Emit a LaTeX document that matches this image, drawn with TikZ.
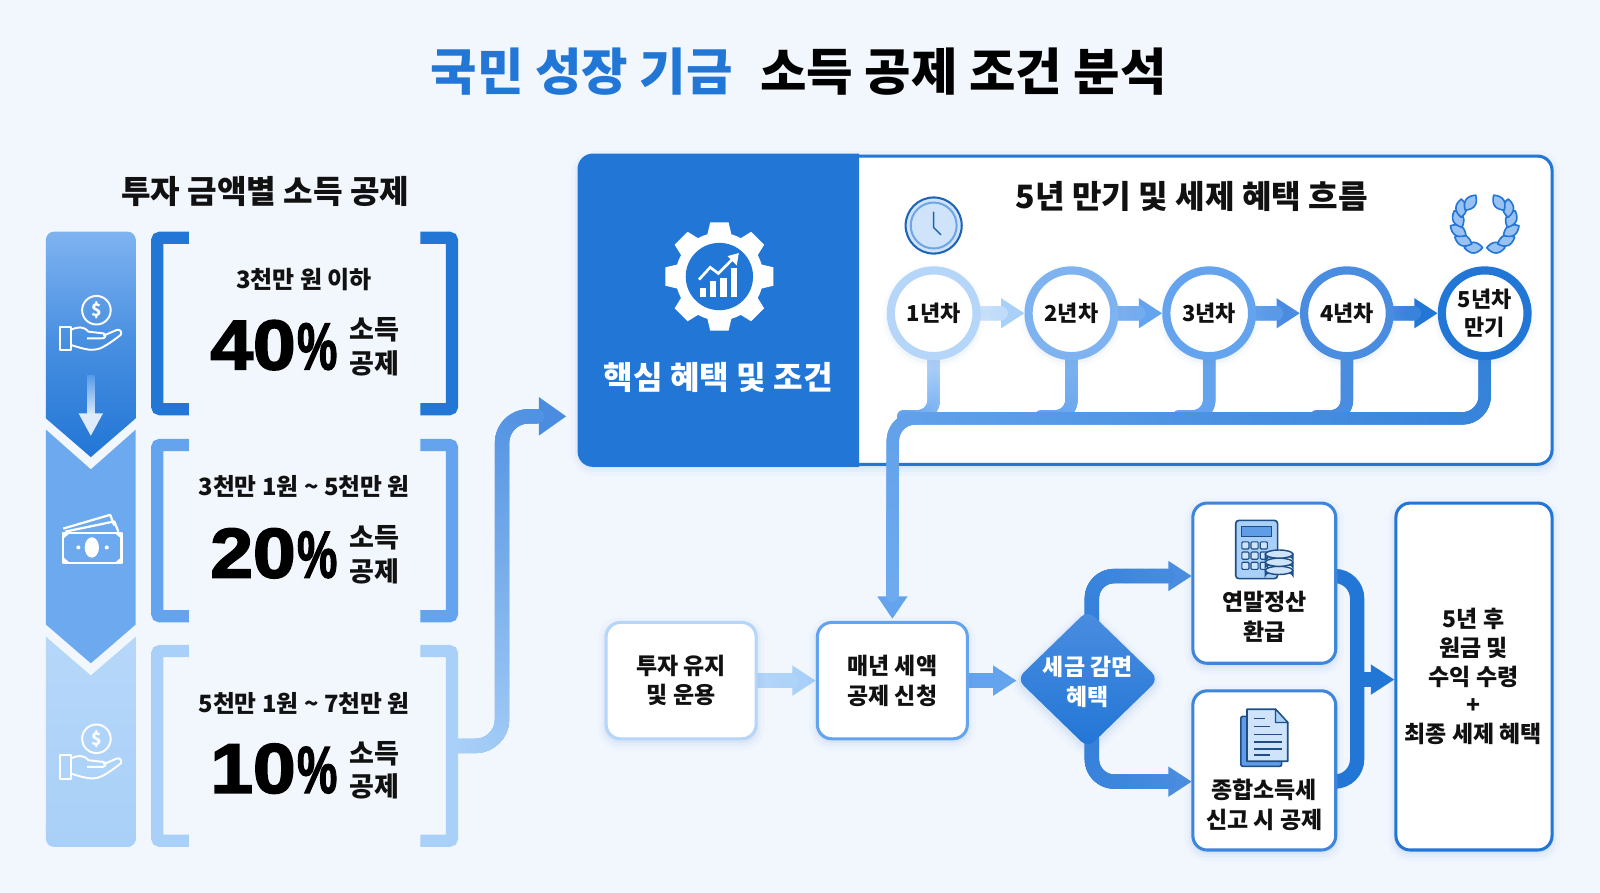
\documentclass[tikz,border=0pt]{standalone}
\usepackage{fontspec}
\usepackage{graphicx}
\usetikzlibrary{arrows.meta,shapes.geometric,decorations.markings,calc}
\setmainfont{Noto Sans CJK KR}
\newfontfamily\numfont{Liberation Sans}[BoldFeatures={FakeBold=2.4}]
\definecolor{cA}{HTML}{2276D6}
\definecolor{cB}{HTML}{64A4EE}
\definecolor{cC}{HTML}{A9D0F8}
\definecolor{cM}{HTML}{4A8DE0}
\definecolor{cN}{HTML}{7FB3F0}
\definecolor{cL}{HTML}{B5D6F9}
\definecolor{bgc}{HTML}{F2F7FE}
\definecolor{shc}{HTML}{5B8FD0}
\definecolor{icd}{HTML}{1F4E85}
\definecolor{icm}{HTML}{5F9DE6}
\definecolor{icl}{HTML}{CFE3FB}
\definecolor{ink}{HTML}{111111}
\colorlet{brn}{cA!65!cM}
\pgfdeclarelayer{under}
\pgfdeclarelayer{conn}
\pgfsetlayers{under,conn,main}
\tikzset{
  softshadow/.style={
    preaction={draw=shc,draw opacity=.035,line width=16pt,transform canvas={yshift=-3pt}},
    preaction={draw=shc,draw opacity=.05,line width=9pt,transform canvas={yshift=-3pt}},
    preaction={draw=shc,draw opacity=.07,line width=4pt,transform canvas={yshift=-2pt}}},
  gradline/.style n args={4}{postaction={decorate,decoration={markings,
    mark=between positions 0 and #4 step 1.5pt with {
      \pgfmathsetmacro\gp{100*(1-\pgfkeysvalueof{/pgf/decoration/mark info/distance from start}/\pgfdecoratedpathlength)}
      \fill[fill=#1!\gp!#2] (0,0) circle[radius=#3/2+0.15];}}}},
  flowtip/.style={-{Triangle[length=#1pt,width=28pt]}},
  tb/.style n args={3}{font=\bfseries\fontsize{#1}{#2}\selectfont,inner sep=0pt,align=center,text=#3},
  flowbox/.style={rectangle,rounded corners=14pt,fill=white,line width=3pt,inner sep=0pt,softshadow},
  yearnode/.style={circle,fill=white,line width=8pt,inner sep=0pt,minimum size=84pt,softshadow,
    font=\bfseries\fontsize{21.5}{28}\selectfont,align=center,text=ink},
  brk/.style={line width=12pt,rounded corners=3pt,line cap=butt},
  ghost/.style={rectangle,inner sep=0pt,minimum width=#1},
  leaf/.pic={\draw[cA,fill=cN!80!white,line width=1.6pt,line join=round]
    (-9,0) .. controls (-3,-7) and (3,-7) .. (9,0) .. controls (3,7) and (-3,7) .. (-9,0) -- cycle;}
}
\newcommand\brpair[5]{% name, y1, y2, colour, centre y
  \node[ghost=301pt,minimum height=#3pt-#2pt] (#1) at (298.5,#5) {};
  \draw[brk,draw=#4] (185,#2+6) -- (154,#2+6) -- (154,#3-6) -- (185,#3-6);
  \draw[brk,draw=#4] (412,#2+6) -- (443,#2+6) -- (443,#3-6) -- (412,#3-6);
}
\newcommand\pctline[3]{% name, y of percent, number
  \node[inner sep=0pt,anchor=base east,text=black] (#1n) at (290,#2+24) {\numfont\bfseries\fontsize{69}{69}\selectfont\scalebox{1.09}[1]{#3}};
  \node[inner sep=0pt,anchor=base west,text=black] (#1p) at (291,#2+24) {\numfont\bfseries\fontsize{65}{65}\selectfont\scalebox{.68}[1]{\%}};
  \node[tb={26.5}{33}{ink}] (#1s) at (367,#2+2) {소득\\공제};
}
\newcommand\handicon[3]{% name, x, y (centre)
  \begin{scope}[shift={(#2,#3)},draw=white,line width=1.9pt,line join=round]
    \draw (4.5,-14) circle[radius=14];
    \node[text=white,inner sep=0pt,font=\bfseries\fontsize{17}{17}\selectfont] (#1) at (4.5,-14) {\$};
    \draw (-31.2,2) rectangle (-20.7,25);
    \draw (-20.7,5.4) .. controls (-14,2) and (-8,1.5) .. (-3.4,7) -- (11.3,8.7) .. controls (14,9.5) and (14,13) .. (11,13.5) -- (-4.7,13.6);
    \draw (11.3,11) -- (24.3,5.4) .. controls (28,4) and (30,8) .. (28.2,10.3) .. controls (22,15) and (14,21) .. (8,23.4) .. controls (0,26) and (-5,25) .. (-20.7,20);
  \end{scope}
}
\begin{document}
\begin{tikzpicture}[x=1pt,y=-1pt]
\useasboundingbox (0,0) rectangle (1568,875);
\begin{pgfonlayer}{under}
\fill[bgc] (0,0) rectangle (1568,875);
\node[rectangle,rounded corners=14pt,draw=cA,fill=white,line width=3pt,inner sep=0pt,
  minimum width=953pt,minimum height=302pt,softshadow] (pnl) at (1044.5,304) {};
\fill[cA] (842,150.5) -- (842,457.5) -- (581,457.5) arc[start angle=90,end angle=180,radius=15] -- (566,165.5) arc[start angle=180,end angle=270,radius=15] -- cycle;
\end{pgfonlayer}

% title
\node[tb={49.5}{52}{cA}] (t1) at (570,70) {국민 성장 기금};
\node[tb={49.5}{52}{black}] (t2) at (944,70) {소득 공제 조건 분석};
\node[tb={31.5}{36}{ink}] (sub) at (260,188) {투자 금액별 소득 공제};

% chevron band
\shade[top color=cC!85!white,bottom color=cC]
  (45,624) -- (89,662) -- (133,624) -- (133,822) arc[start angle=0,end angle=90,radius=8] -- (53,830) arc[start angle=90,end angle=180,radius=8] -- cycle;
\fill[cB!95!white] (45,421) -- (89,460) -- (133,421) -- (133,612) -- (89,650) -- (45,612) -- cycle;
\shade[top color=cN,bottom color=cA,middle color=cA!60!cN]
  (45,410) -- (45,235) arc[start angle=180,end angle=270,radius=8] -- (125,227) arc[start angle=270,end angle=360,radius=8] -- (133,410) -- (89,448) -- cycle;
\shade[top color=cB!80!cA,bottom color=white!80!cB] (85.5,368) rectangle (92.5,408);
\fill[white!78!cB] (77,405) -- (101,405) -- (89,427) -- cycle;

% band icons
\handicon{coinA}{90}{318}
\handicon{coinB}{90}{738}
\begin{scope}[draw=white,line width=2.2pt,line join=round]
  \draw (62,518) -- (108,504.5) -- (112,515);
  \draw (64,521) -- (112,511) -- (116,521);
  \draw (62,522) rectangle (119,552);
  \fill[white] (90,536.5) ellipse[x radius=7,y radius=10];
  \fill[white] (76.8,536.5) circle[radius=2];
  \fill[white] (104.6,536.5) circle[radius=2];
  \fill[white] (62,522) -- (69,522) -- (62,528) -- cycle;
  \fill[white] (119,522) -- (112,522) -- (119,528) -- cycle;
  \fill[white] (62,552) -- (69,552) -- (62,546) -- cycle;
  \fill[white] (119,552) -- (112,552) -- (119,546) -- cycle;
\end{scope}

% brackets
\brpair{brA}{227}{407}{cA}{317}
\brpair{brB}{430}{610}{cB}{520}
\brpair{brC}{632}{830}{cC}{731}

\node[tb={23.5}{28}{ink}] (a1) at (298,274) {3천만 원 이하};
\pctline{a2}{338}{40}
\node[tb={23.3}{28}{ink}] (b1) at (298,477) {3천만 1원 {\char"7E} 5천만 원};
\pctline{b2}{542}{20}
\node[tb={23.3}{28}{ink}] (c1) at (298,689) {5천만 1원 {\char"7E} 7천만 원};
\pctline{c2}{753}{10}

\node[tb={31.5}{36}{white}] (pt) at (704,370) {핵심 혜택 및 조건};
\node[tb={31.5}{36}{ink}] (ph) at (1168,193) {5년 만기 및 세제 혜택 흐름};

% gear
\begin{scope}[shift={(705,271)}]
  \foreach \a in {0,45,...,315}
    \fill[white,rotate=\a] (-13,-36) -- (-9,-53) -- (9,-53) -- (13,-36) -- cycle;
  \fill[white] (0,0) circle[radius=43];
  \fill[cA] (0,0) circle[radius=33];
  \fill[white] (-19,11) rectangle (-13,20);
  \fill[white] (-9,4) rectangle (-3,20);
  \fill[white] (1,1) rectangle (7,20);
  \fill[white] (11,-8) rectangle (17,20);
  \draw[white,line width=2.6pt,line join=miter] (-20,3) -- (-9,-9) -- (-1,-3) -- (14,-18);
  \fill[white] (19,-23) -- (8,-20) -- (17,-11) -- cycle;
\end{scope}

% clock
\begin{scope}[shift={(915,221)}]
  \fill[icl] (0,0) circle[radius=28];
  \draw[cA!85!black,line width=2pt] (0,0) circle[radius=27.5];
  \draw[cA!65!white,line width=2pt] (0,0) circle[radius=22.5];
  \draw[cA!85!black,line width=1.5pt,line cap=round] (0,-13) -- (0,2) -- (7,9);
\end{scope}

% laurel
\foreach \px/\py/\r in {1444/242.7/0,1434/235.7/22,1429/226/32,1429/214.6/65,1432/204/90,1441/198.6/-55} {
  \pic[shift={(\px,\py)},rotate={-\r}] {leaf};
  \pic[shift={({2910-\px},\py)},rotate={\r}] {leaf};
}

% year nodes
\node[yearnode,draw=cL] (yA) at (915,307) {1년차};
\node[yearnode,draw=cN] (yB) at (1050,307) {2년차};
\node[yearnode,draw=cB] (yC) at (1185,307) {3년차};
\node[yearnode,draw=cM] (yD) at (1320,307) {4년차};
\node[yearnode,draw=cA] (yE) at (1455,307) {5년차\\만기};

% bottom boxes
\node[flowbox,draw=cL,minimum width=147pt,minimum height=114pt] (keep) at (667.5,667) {};
\node[tb={22.5}{29}{ink}] (keept) at (667.5,667) {투자 유지\\및 운용};
\node[flowbox,draw=cB,minimum width=147pt,minimum height=114pt] (mnb) at (874.5,667) {};
\node[tb={22.5}{29}{ink}] (mnbt) at (874.5,667) {매년 세액\\공제 신청};
\node[flowbox,draw=cA!88!white,minimum width=140pt,minimum height=157pt] (ny) at (1239,571.5) {};
\node[tb={22.5}{29}{ink}] (nyt) at (1239,604.5) {연말정산\\환급};
\node[flowbox,draw=cA!88!white,minimum width=140pt,minimum height=156pt] (nj) at (1239,755) {};
\node[tb={22.5}{29}{ink}] (njt) at (1239,788.5) {종합소득세\\신고 시 공제};
\node[flowbox,draw=cA,minimum width=153pt,minimum height=340pt] (fin) at (1444.5,663) {};
\node[tb={22.5}{28}{ink}] (fint) at (1444,663) {5년 후\\원금 및\\수익 수령\\+\\최종 세제 혜택};
\node[diamond,shape aspect=1,minimum width=139pt,minimum height=135pt,inner sep=0pt,rounded corners=9pt,
  top color=cM,bottom color=cA,softshadow] (dia) at (1066,665.5) {};
\node[tb={22.5}{29}{white}] (diat) at (1066,668) {세금 감면\\혜택};

% connectors
\coordinate (riser) at (492,570);
\coordinate (pnlIn) at (555,408);
\coordinate (busL) at (875,410);
\coordinate (nyIn) at (1168,564.5);
\coordinate (njIn) at (1168,766);
\coordinate (brR) at (1330,666);
\coordinate (diaT) at (1070,620);
\coordinate (diaB) at (1070,710);
\begin{pgfonlayer}{conn}
\draw[line width=14pt,draw=cM,-{Triangle[length=27pt,width=36pt]},rounded corners=26pt,gradline={cC}{cM}{14}{-27pt}]
  (brC.east) -| (riser) |- (pnlIn);
\draw[line width=14pt,draw=cC,flowtip=23,gradline={cL!60!white}{cC}{14}{-23pt}] (yA.east) -- (yB.west);
\draw[line width=14pt,draw=cB,flowtip=23,gradline={cN}{cB}{14}{-23pt}] (yB.east) -- (yC.west);
\draw[line width=14pt,draw=cM,flowtip=23,gradline={cB}{cM}{14}{-23pt}] (yC.east) -- (yD.west);
\draw[line width=14pt,draw=cA,flowtip=23,gradline={cM}{cA}{14}{-23pt}] (yD.east) -- (yE.west);
\draw[line width=12pt,cB,rounded corners=16pt,gradline={cL}{cB}{12}{1}] (yA.south) |- ++(-30,55);
\draw[line width=12pt,cB,rounded corners=16pt,gradline={cN}{cB}{12}{1}] (yB.south) |- ++(-30,55);
\draw[line width=12pt,cB,rounded corners=16pt,gradline={cB}{cB}{12}{1}] (yC.south) |- ++(-30,55);
\draw[line width=12pt,cM,rounded corners=16pt,gradline={cM}{cM}{12}{1}] (yD.south) |- ++(-30,55);
\draw[line width=12pt,draw=cB,-{Triangle[length=22pt,width=28pt]},rounded corners=22pt,shorten >=2pt,gradline={cA}{cB!92!white}{12}{-24pt}]
  (yE.south) |- (busL) -- (mnb.north);
\draw[line width=14pt,draw=cC,flowtip=23,gradline={cL}{cC}{14}{-23pt}] (keep.east) -- (mnb.west);
\draw[line width=14pt,draw=cB,flowtip=23,gradline={cB}{cB}{14}{-23pt}] (mnb.east) -- (mnb.east -| dia.west);
\draw[line width=14pt,draw=cM,flowtip=23,rounded corners=22pt,gradline={brn}{cM}{14}{-23pt}] (diaT) |- (nyIn);
\draw[line width=14pt,draw=cM,flowtip=23,rounded corners=22pt,gradline={brn}{cM}{14}{-23pt}] (diaB) |- (njIn);
\draw[line width=14pt,draw=cA,rounded corners=22pt] (ny.east |- nyIn) -| (brR) |- (nj.east |- njIn);
\draw[line width=14pt,draw=cA,flowtip=23] (brR) -- (brR -| fin.west);
\end{pgfonlayer}

% calculator icon
\draw[icd,fill=cC,line width=1.6pt,rounded corners=3pt] (1211,510) rectangle (1252,567);
\draw[icd,fill=icm,line width=1.2pt] (1217,516) rectangle (1246,526);
\foreach \y in {531,541,551} \foreach \x in {1217,1226,1235}
  \draw[icd,fill=icl,line width=1.1pt,rounded corners=1pt] (\x,\y) rectangle ++(7,7);
% coin stack icon
\foreach \y in {559,551,543} {
  \draw[icd,fill=icl!70!cC,line width=1.4pt] (1240,\y) -- (1240,\y+5) arc[start angle=180,end angle=0,x radius=13.5,y radius=-4] -- (1267,\y) -- cycle;
  \draw[icd,fill=icl,line width=1.4pt] (1253.5,\y) ellipse[x radius=13.5,y radius=4];
}
% document icon
\draw[icd,fill=icm,line width=1.6pt,rounded corners=2pt] (1216,702) rectangle (1256,751);
\draw[icd,fill=icl,line width=1.6pt,line join=round] (1222,695) -- (1250,695) -- (1262,708) -- (1262,746) -- (1222,746) -- cycle;
\draw[icd,fill=cC,line width=1.2pt,line join=round] (1250,695) -- (1250,708) -- (1262,708) -- cycle;
\draw[icd,line width=1.3pt] (1229,704) -- (1240,704) (1229,712) -- (1245,712) (1229,720) -- (1256,720) (1229,727) -- (1256,727) (1229,734) -- (1256,734) (1229,740) -- (1245,740);
\end{tikzpicture}
\end{document}
